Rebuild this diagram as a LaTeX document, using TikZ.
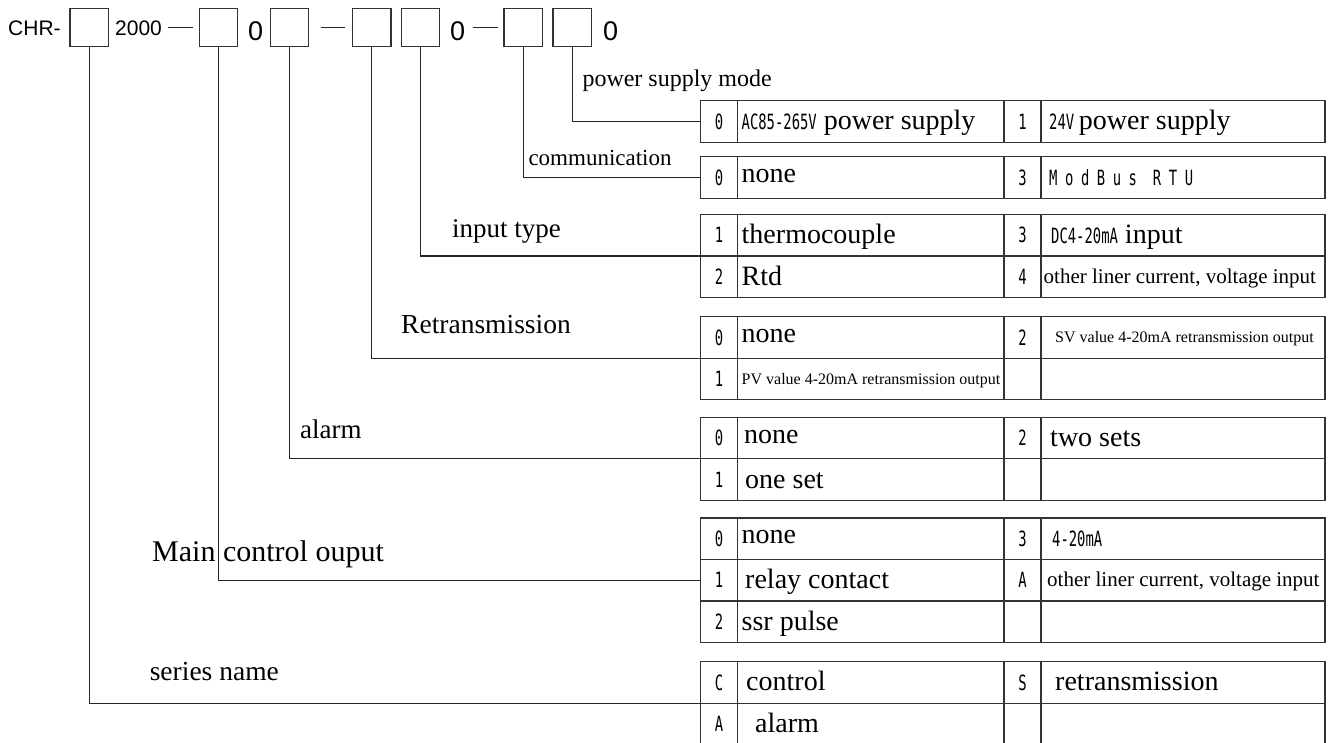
\documentclass[tikz,border=0pt]{standalone}
\usepackage{fontspec}
\setmainfont{Liberation Serif}
\newfontfamily\hdrfont{Liberation Sans}
\newfontfamily\codefont[FakeStretch=0.66]{DejaVu Sans Mono}
\newfontfamily\codewide[FakeStretch=0.66,LetterSpace=36]{DejaVu Sans Mono}
\newcommand{\fsz}[1]{\fontsize{#1}{#1}\selectfont}
\tikzset{
  boxline/.style={draw=black!80,line width=1.3pt},
  slot/.style={boxline,minimum width=38.5pt,minimum height=38pt,inner sep=0pt},
  hdr/.style={font=\hdrfont\fsz{21},anchor=base west,inner sep=0pt},
  zero/.style={font=\hdrfont\fsz{27},anchor=base west,inner sep=0pt},
  fieldname/.style={anchor=base west,inner sep=0pt},
  codetxt/.style={font=\codefont\fsz{21},inner sep=0pt},
  item/.style={anchor=base west,inner sep=0pt,yshift=-8.5pt,font=\fsz{28}},
  low/.style={yshift=3.5pt},
  link/.style={draw=black!85,line width=1.3pt},
}
\begin{document}
\begin{tikzpicture}[x=1pt,y=-1pt]
\useasboundingbox (0,0) rectangle (1332,743);
\clip (0,0) rectangle (1332,743);

\node[hdr] (chr) at (8,35.3) {CHR-};
\node[slot] (s1) at (89.3,27.7) {};
\node[hdr] (yr) at (115,35.3) {2000};
\node[slot] (s2) at (218.5,27.7) {};
\node[zero] (z1) at (248,40.5) {0};
\node[slot] (s3) at (289.5,27.7) {};
\node[slot] (s4) at (371.7,27.7) {};
\node[slot] (s5) at (420.5,27.7) {};
\node[zero] (z2) at (450,40.5) {0};
\node[slot] (s6) at (523.3,27.7) {};
\node[slot] (s7) at (572.3,27.7) {};
\node[zero] (z3) at (603,40.5) {0};
\draw[link] (168,27.3) -- (193,27.3) (320.7,27.3) -- (345,27.3) (472.7,27.3) -- (498,27.3);

\foreach \t/\n in {100.7/1,156.7/1,214.5/2,316.7/2,417.3/2,518/3,661.7/2}{
  \draw[boxline] (700.7,\t) rectangle (1325,\t+\n*41.5);
  \foreach \x in {737.3,1004,1041} \draw[boxline] (\x,\t) -- (\x,\t+\n*41.5);
  \foreach \k in {1,...,\n} \draw[boxline] (700.7,\t+\k*41.5) -- (1325,\t+\k*41.5);
}

\coordinate (pwr) at (700.7,121.45);
\coordinate (com) at (700.7,177.45);
\coordinate (inp) at (700.7,256);
\coordinate (ret) at (700.7,358.2);
\coordinate (alm) at (700.7,458.8);
\coordinate (mco) at (700.7,580.25);
\coordinate (ser) at (700.7,703.2);
\draw[link] (s7.south) |- (pwr);
\draw[link] (s6.south) |- (com);
\draw[link] (s5.south) |- (inp);
\draw[link] (s4.south) |- (ret);
\draw[link] (s3.south) |- (alm);
\draw[link] (s2.south) |- (mco);
\draw[link] (s1.south) |- (ser);

\node[fieldname,font=\fsz{24}] (lpwr) at (582.3,86.5) {power supply mode};
\node[fieldname,font=\fsz{23}] (lcom) at (528.3,166) {communication};
\node[fieldname,font=\fsz{27}] (linp) at (451.8,238) {input type};
\node[fieldname,font=\fsz{27.5}] (lret) at (401,333) {Retransmission};
\node[fieldname,font=\fsz{27}] (lalm) at (300,438) {alarm};
\node[fieldname,font=\fsz{30}] (lmco) at (152,561) {Main control ouput};
\node[fieldname,font=\fsz{27.5}] (lser) at (149.6,680) {series name};

\node[codetxt] (p0) at (719,121.45) {0};
\node[item] (p0t) at (741.5,121.45) {{\codefont\fsz{21}AC85-265V} power supply};
\node[codetxt] (p1) at (1022.5,121.45) {1};
\node[item] (p1t) at (1049,121.45) {{\codefont\fsz{21}24V}\,power supply};

\node[codetxt] (m0) at (719,177.45) {0};
\node[item,low] (m0t) at (741.5,177.45) {none};
\node[codetxt] (m3) at (1022.5,177.45) {3};
\node[codetxt,anchor=west] (m3t) at (1049,177.45) {\codewide ModBus RTU};

\node[codetxt] (i1) at (719,235.25) {1};
\node[item] (i1t) at (741.5,235.25) {thermocouple};
\node[codetxt] (i3) at (1022.5,235.25) {3};
\node[item] (i3t) at (1051,235.25) {{\codefont\fsz{21}DC4-20mA} input};
\node[codetxt] (i2) at (719,276.75) {2};
\node[item] (i2t) at (741.5,276.75) {Rtd};
\node[codetxt] (i4) at (1022.5,276.75) {4};
\node[item,font=\fsz{21},yshift=2pt] (i4t) at (1043.5,276.75) {other liner current, voltage input};

\node[codetxt] (r0) at (719,337.45) {0};
\node[item,low] (r0t) at (741.5,337.45) {none};
\node[codetxt] (r2) at (1022.5,337.45) {2};
\node[item,font=\fsz{16},yshift=3pt] (r2t) at (1055,337.45) {SV value 4-20mA retransmission output};
\node[codetxt] (r1) at (719,378.95) {1};
\node[item,font=\fsz{16},yshift=3pt] (r1t) at (741.5,378.95) {PV value 4-20mA retransmission output};

\node[codetxt] (a0) at (719,438.05) {0};
\node[item,low] (a0t) at (744,438.05) {none};
\node[codetxt] (a2) at (1022.5,438.05) {2};
\node[item] (a2t) at (1050,438.05) {two sets};
\node[codetxt] (a1) at (719,479.55) {1};
\node[item] (a1t) at (745,479.55) {one set};

\node[codetxt] (o0) at (719,538.75) {0};
\node[item,low] (o0t) at (741.5,538.75) {none};
\node[codetxt] (o3) at (1022.5,538.75) {3};
\node[codetxt,anchor=west] (o3t) at (1052,538.75) {4-20mA};
\node[codetxt] (o1) at (719,580.25) {1};
\node[item] (o1t) at (745,580.25) {relay contact};
\node[codetxt] (oA) at (1022.5,580.25) {A};
\node[item,font=\fsz{21},yshift=2pt] (oAt) at (1047,580.25) {other liner current, voltage input};
\node[codetxt] (o2) at (719,621.75) {2};
\node[item] (o2t) at (741.5,621.75) {ssr pulse};

\node[codetxt] (nC) at (719,682.45) {C};
\node[item] (nCt) at (746,682.45) {control};
\node[codetxt] (nS) at (1022.5,682.45) {S};
\node[item] (nSt) at (1055,682.45) {retransmission};
\node[codetxt] (nA) at (719,723.95) {A};
\node[item] (nAt) at (755,723.95) {alarm};
\end{tikzpicture}
\end{document}
